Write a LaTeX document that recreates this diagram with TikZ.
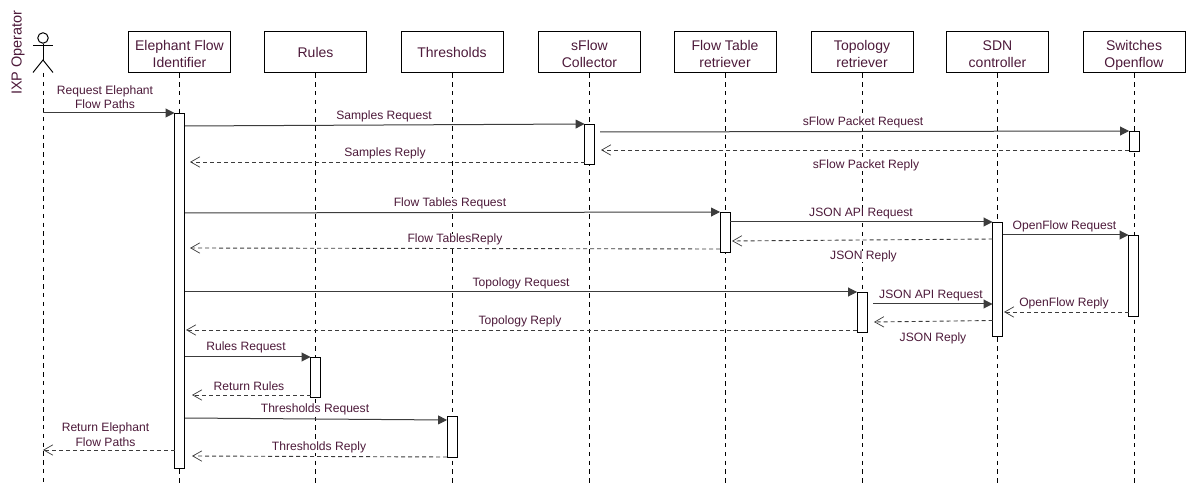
\documentclass[tikz,border=0pt]{standalone}
\usepackage{fontspec}
\setmainfont{Liberation Sans}
\usetikzlibrary{arrows.meta}
\definecolor{txt}{HTML}{4D1A3A}
\definecolor{ln}{HTML}{3C3C3C}
\tikzset{
  x=0.5pt,y=-0.5pt,
  obj/.style={draw=black,line width=0.5pt,fill=white,minimum width=51pt,minimum height=20.5pt,inner sep=0pt,align=center,text=txt,font=\fontsize{7}{8.6}\selectfont},
  act/.style={draw=black,line width=0.5pt,fill=white,minimum width=5pt,inner sep=0pt,anchor=north},
  life/.style={draw=black,line width=0.45pt,dash pattern=on 2.2pt off 2.2pt},
  req/.style={draw=ln,line width=0.5pt,-{Triangle[length=4.4pt,width=4.4pt]}},
  rep/.style={draw=ln,line width=0.45pt,dash pattern=on 2pt off 1.5pt,-{Straight Barb[length=4.6pt,width=5.2pt,line width=0.35pt]}},
  lab/.style={text=txt,fill=white,inner sep=0pt,align=center,font=\fontsize{6.05}{7.2}\selectfont},
  stick/.style={draw=black,line width=0.5pt}
}
\newcommand{\actbox}[4]{\node[act,minimum height=#3*0.5pt] (#1) at (#2,#4) {};}
\newcommand{\twol}[2]{\begin{tabular}{@{}c@{}}\rule{0pt}{8.6pt}#1\\[-0.1pt]#2\end{tabular}}
\begin{document}
\begin{tikzpicture}
\useasboundingbox (0,0) rectangle (1186,485);
% objects
\node[obj] (efi) at (179.5,52.5) {\twol{Elephant Flow}{Identifier}};
\node[obj] (rul) at (315.5,52.5) {Rules};
\node[obj] (thr) at (452,52.5) {Thresholds};
\node[obj] (sfl) at (589.5,52.5) {\twol{sFlow}{Collector}};
\node[obj] (ftr) at (725,52.5) {\twol{Flow Table}{retriever}};
\node[obj] (top) at (862,52.5) {\twol{Topology}{retriever}};
\node[obj] (sdn) at (997.5,52.5) {\twol{SDN}{controller}};
\node[obj] (swi) at (1134,52.5) {\twol{Switches}{Openflow}};
% actor
\node[draw=black,line width=0.5pt,circle,minimum size=10.5*0.5pt,inner sep=0pt] (head) at (43,38) {};
\coordinate (hip) at (43,60);
\coordinate (armL) at (33,46);
\coordinate (armR) at (53,46);
\coordinate (legL) at (33,72.5);
\coordinate (legR) at (53,72.5);
\draw[stick] (head.south) -- (hip);
\draw[stick] (armL) -- (armR);
\draw[stick] (legL) -- (hip) -- (legR);
\node[rotate=90,text=txt,inner sep=0pt,font=\fontsize{7.25}{9}\selectfont] (ixp) at (18,52.5) {IXP Operator};
% lifelines
\coordinate (actTop) at (43,73);
\coordinate (actEnd) at (43,485);
\draw[life] (actTop) -- (actEnd);
\foreach \n/\x in {efi/179.5,rul/315.5,thr/452,sfl/589.5,ftr/725,top/862,sdn/997.5,swi/1134}{
  \coordinate (\n End) at (\x,485);
  \draw[life] (\n.south) -- (\n End);
}
% activations
\actbox{aefi}{179.5}{355}{113}
\actbox{asfl}{589.5}{40}{124}
\actbox{aswa}{1134}{20}{131}
\actbox{aftr}{725}{40}{212}
\actbox{asdn}{997.5}{114}{222}
\actbox{aswb}{1133.5}{81}{235}
\actbox{atop}{862}{40}{292}
\actbox{arul}{315.5}{40}{357}
\actbox{athr}{452}{41}{416}
% message end points
\foreach \n/\x/\y in {
 a/43/113, b/174.5/113,
 c/185/126, d/584.5/124,
 e/600/132, f/1129/131,
 g/1129/150, h/601/150,
 i/584.5/162, j/190/162,
 k/185/213, l/720/212,
 m/730/222, n/992.5/222,
 o/1002.5/235, p/1128.5/235,
 q/992.5/239, r/732/241,
 s/720/249, t/190/248,
 u/185/292, v/857/292,
 w/873/304, x/992.5/304,
 y/1128.5/312, z/1004/312,
 aa/992.5/320.5, ab/874/322,
 ac/857/330, ad/186/330,
 ae/185/357, af/310.5/357,
 ag/310.5/395, ah/192/395,
 ai/185/418, aj/447/420,
 ak/174.5/450, al/43/450,
 am/447/457, an/192/456}{
 \coordinate (p\n) at (\x,\y);
}
% connectors
\draw[req] (pa) -- (pb);
\draw[req] (pc) -- (pd);
\draw[req] (pe) -- (pf);
\draw[rep] (pg) -- (ph);
\draw[rep] (pi) -- (pj);
\draw[req] (pk) -- (pl);
\draw[req] (pm) -- (pn);
\draw[req] (po) -- (pp);
\draw[rep] (pq) -- (pr);
\draw[rep] (ps) -- (pt);
\draw[req] (pu) -- (pv);
\draw[req] (pw) -- (px);
\draw[rep] (py) -- (pz);
\draw[rep] (paa) -- (pab);
\draw[rep] (pac) -- (pad);
\draw[req] (pae) -- (paf);
\draw[rep] (pag) -- (pah);
\draw[req] (pai) -- (paj);
\draw[rep] (pak) -- (pal);
\draw[rep] (pam) -- (pan);
% labels
\node[lab] (l1) at (105,97) {Request Elephant\\Flow Paths};
\node[lab] (l2) at (384,116) {Samples Request};
\node[lab] (l3) at (863,122.5) {sFlow Packet Request};
\node[lab] (l4) at (866,165.5) {sFlow Packet Reply};
\node[lab] (l5) at (385,153) {Samples Reply};
\node[lab] (l6) at (450,203.5) {Flow Tables Request};
\node[lab] (l7) at (861,213.5) {JSON API Request};
\node[lab] (l8) at (1064.5,226.5) {OpenFlow Request};
\node[lab] (l9) at (863.5,256.5) {JSON Reply};
\node[lab] (l10) at (455,239.5) {Flow TablesReply};
\node[lab] (l11) at (521,283.5) {Topology Request};
\node[lab] (l12) at (931,295.5) {JSON API Request};
\node[lab] (l13) at (1064,303.5) {OpenFlow Reply};
\node[lab] (l14) at (933,338.5) {JSON Reply};
\node[lab] (l15) at (520,321.5) {Topology Reply};
\node[lab] (l16) at (246,347.5) {Rules Request};
\node[lab] (l17) at (249,386.5) {Return Rules};
\node[lab] (l18) at (315,409.5) {Thresholds Request};
\node[lab] (l19) at (105.5,434.5) {Return Elephant\\Flow Paths};
\node[lab] (l20) at (319,447.5) {Thresholds Reply};
\end{tikzpicture}
\end{document}
